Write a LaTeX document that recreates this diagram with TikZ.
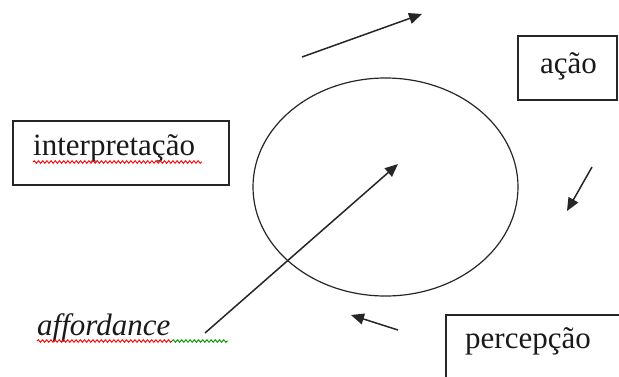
\documentclass[tikz,border=0pt]{standalone}
\usepackage{fontspec}
\setmainfont{Liberation Serif}
\usetikzlibrary{shapes.geometric,decorations.pathmorphing,arrows.meta}
\tikzset{
  frame/.style={draw=black!85, line width=1.4pt, inner sep=0pt},
  label/.style={inner sep=0pt, anchor=base west, font=\fontsize{31}{36}\selectfont, text=black!90},
  arr/.style={line width=1.5pt, draw=black!85, -{Triangle[length=13pt,width=11pt]}},
  wavy/.style={line width=0.9pt, decorate, decoration={snake, amplitude=1.3pt, segment length=4.2pt}},
}
\begin{document}
\begin{tikzpicture}[x=1pt,y=-1pt]
\useasboundingbox (0,0) rectangle (619,376);
\clip (0,0) rectangle (619,376);
% boxes
\node[frame, minimum width=216pt, minimum height=64pt] (interpbox) at (121,153) {};
\node[frame, minimum width=99pt, minimum height=64pt] (acaobox) at (567.5,68) {};
\node[frame, minimum width=180pt, minimum height=70pt] (percbox) at (536,350) {};
% labels
\node[label] (interp) at (33,155) {interpretação};
\node[label] (acao) at (540,73) {ação};
\node[label] (perc) at (465,348) {percepção};
\node[label, font=\fontsize{31}{36}\selectfont\itshape] (afford) at (37,335) {affordance};
% circle
\node[draw=black!85, line width=1.2pt, ellipse, minimum width=265pt, minimum height=218pt, inner sep=0pt] (cycle) at (385.5,187) {};
% arrow end points
\coordinate (t1) at (302,57);
\coordinate (t2) at (422,14);
\coordinate (r1) at (592,167);
\coordinate (r2) at (567,211);
\coordinate (b1) at (398,330);
\coordinate (b2) at (351,315);
\coordinate (a1) at (205,333);
\coordinate (a2) at (398,164);
\draw[arr] (t1) -- (t2);
\draw[arr] (r1) -- (r2);
\draw[arr] (b1) -- (b2);
\draw[arr] (a1) -- (a2);
% spell-check underlines
\draw[wavy, red] (33,162) -- (202,162);
\draw[wavy, red] (37,341) -- (172,341);
\draw[wavy, green!60!black] (172,341) -- (228,341);
\end{tikzpicture}
\end{document}
